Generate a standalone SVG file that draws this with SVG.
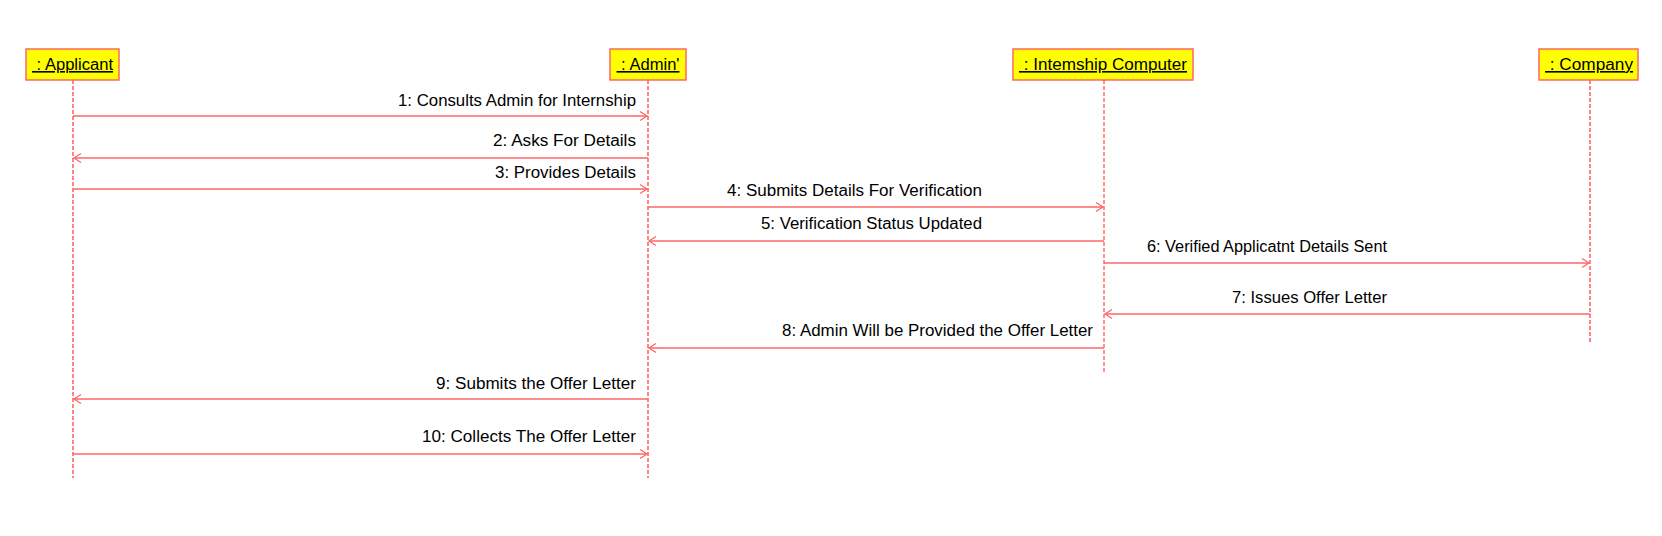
<svg xmlns="http://www.w3.org/2000/svg" width="1662" height="536" viewBox="0 0 1662 536">
<style>
.box{fill:#ffff00;stroke:#ff6666;stroke-width:1.5}
.title{font-family:"Liberation Sans",Arial,sans-serif;font-size:16px;fill:#000;text-anchor:middle;text-decoration:underline}
.life{stroke:#ff6666;stroke-width:1.6;stroke-dasharray:4 2;fill:none}
.life2{stroke:#ff2222;stroke-width:1;stroke-dasharray:4 2;fill:none}
.msg{stroke:#ff6666;stroke-width:1.5;fill:none}
.lbl{font-family:"Liberation Sans",Arial,sans-serif;font-size:16px;fill:#000}
</style>
<defs>
<marker id="ar" markerUnits="userSpaceOnUse" markerWidth="12" markerHeight="12" viewBox="0 0 12 12" refX="9" refY="6" orient="auto">
<path d="M2,1.5 L9,6 L2,10.5" fill="none" stroke="#ff6666" stroke-width="1.3"/>
</marker>
</defs>
<rect width="1662" height="536" fill="#ffffff"/>
<g id="applicant">
<rect class="box" x="26" y="49" width="93" height="31"/>
<text class="title" x="72.5" y="70" textLength="81" lengthAdjust="spacingAndGlyphs" xml:space="preserve"> : Applicant</text>
<line class="life" x1="73" y1="80" x2="73" y2="478"/>
</g>
<g id="admin">
<rect class="box" x="610" y="49" width="76" height="31"/>
<text class="title" x="648" y="70" textLength="63" lengthAdjust="spacingAndGlyphs" xml:space="preserve"> : Admin'</text>
<line class="life" x1="648" y1="80" x2="648" y2="478"/>
</g>
<g id="internship-computer">
<rect class="box" x="1013" y="49" width="180" height="31"/>
<text class="title" x="1103" y="70" textLength="168" lengthAdjust="spacingAndGlyphs" xml:space="preserve"> : Intemship Computer</text>
<line class="life2" x1="1104" y1="80" x2="1104" y2="374"/>
</g>
<g id="company">
<rect class="box" x="1539" y="49" width="99" height="31"/>
<text class="title" x="1589" y="70" textLength="88" lengthAdjust="spacingAndGlyphs" xml:space="preserve"> : Company</text>
<line class="life" x1="1590" y1="80" x2="1590" y2="342"/>
</g>
<g id="connectors">
<line class="msg" x1="73" y1="116" x2="647" y2="116" marker-end="url(#ar)"/>
<text class="lbl" x="398" y="106" textLength="238" lengthAdjust="spacingAndGlyphs">1: Consults Admin for Internship</text>
<line class="msg" x1="648" y1="158" x2="74" y2="158" marker-end="url(#ar)"/>
<text class="lbl" x="493" y="146" textLength="143" lengthAdjust="spacingAndGlyphs">2: Asks For Details</text>
<line class="msg" x1="73" y1="189" x2="647" y2="189" marker-end="url(#ar)"/>
<text class="lbl" x="495" y="178" textLength="141" lengthAdjust="spacingAndGlyphs">3: Provides Details</text>
<line class="msg" x1="648" y1="207" x2="1103" y2="207" marker-end="url(#ar)"/>
<text class="lbl" x="727" y="196" textLength="255" lengthAdjust="spacingAndGlyphs">4: Submits Details For Verification</text>
<line class="msg" x1="1104" y1="241" x2="649" y2="241" marker-end="url(#ar)"/>
<text class="lbl" x="761" y="229" textLength="221" lengthAdjust="spacingAndGlyphs">5: Verification Status Updated</text>
<line class="msg" x1="1104" y1="263" x2="1589" y2="263" marker-end="url(#ar)"/>
<text class="lbl" x="1147" y="252" textLength="240" lengthAdjust="spacingAndGlyphs">6: Verified Applicatnt Details Sent</text>
<line class="msg" x1="1590" y1="314" x2="1105" y2="314" marker-end="url(#ar)"/>
<text class="lbl" x="1232" y="303" textLength="155" lengthAdjust="spacingAndGlyphs">7: Issues Offer Letter</text>
<line class="msg" x1="1104" y1="348" x2="649" y2="348" marker-end="url(#ar)"/>
<text class="lbl" x="782" y="336" textLength="311" lengthAdjust="spacingAndGlyphs">8: Admin Will be Provided the Offer Letter</text>
<line class="msg" x1="648" y1="399" x2="74" y2="399" marker-end="url(#ar)"/>
<text class="lbl" x="436" y="389" textLength="200" lengthAdjust="spacingAndGlyphs">9: Submits the Offer Letter</text>
<line class="msg" x1="73" y1="454" x2="647" y2="454" marker-end="url(#ar)"/>
<text class="lbl" x="422" y="442" textLength="214" lengthAdjust="spacingAndGlyphs">10: Collects The Offer Letter</text>
</g>
</svg>
